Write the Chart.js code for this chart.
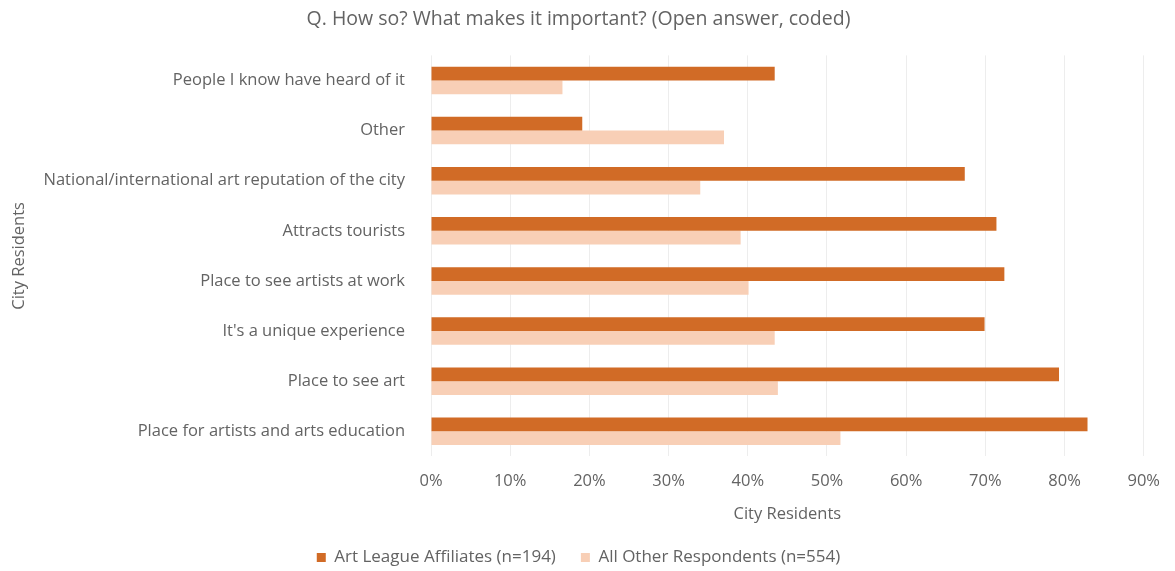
<!DOCTYPE html>
<html>
<head>
<meta charset="utf-8">
<script src="https://cdn.jsdelivr.net/npm/chart.js@4.4.0/dist/chart.umd.min.js"></script>
<style>
  html, body { margin: 0; padding: 0; background: #fff; }
  #wrap { width: 1175px; height: 571px; }
</style>
</head>
<body>
<div id="wrap"><canvas id="barChart"></canvas></div>
<script>
// categories (top to bottom)
const categories = [
    'People I know have heard of it',
    'Other',
    'National/international art reputation of the city',
    'Attracts tourists',
    'Place to see artists at work',
    "It's a unique experience",
    'Place to see art',
    'Place for artists and arts education'
];

// series values in percent
const affiliatesValues = [43.4, 19.1, 67.4, 71.4, 72.4, 69.9, 79.3, 82.9];
const othersValues = [16.6, 37.0, 34.0, 39.1, 40.1, 43.4, 43.8, 51.7];

const seriesNames = ['Art League Affiliates (n=194)', 'All Other Respondents (n=554)'];
const xTicks = [0, 10, 20, 30, 40, 50, 60, 70, 80, 90];

const textColor = '#636363';
Chart.defaults.font.family = '"Open Sans", Lato, sans-serif';
Chart.defaults.color = textColor;

const barChart = document.getElementById('barChart');

new Chart(barChart, {
    type: 'bar',
    data: {
        labels: categories,
        datasets: [{
            label: seriesNames[0],
            data: affiliatesValues,
            backgroundColor: 'rgb(209, 107, 38)',
            barPercentage: 1,
            categoryPercentage: 0.55
        }, {
            label: seriesNames[1],
            data: othersValues,
            backgroundColor: 'rgb(248, 207, 182)',
            barPercentage: 1,
            categoryPercentage: 0.55
        }]
    },
    options: {
        indexAxis: 'y',
        responsive: true,
        maintainAspectRatio: false,
        animation: false,
        layout: {
            padding: { left: 9, right: 27, top: 8, bottom: -5 }
        },
        plugins: {
            title: {
                display: true,
                text: 'Q. How so? What makes it important? (Open answer, coded)',
                font: { size: 19.5, weight: 'normal' },
                color: textColor,
                padding: { top: 0, bottom: 24 }
            },
            legend: {
                position: 'bottom',
                labels: {
                    boxWidth: 9,
                    boxHeight: 9,
                    font: { size: 17 },
                    padding: 25
                }
            },
            tooltip: { enabled: false }
        },
        scales: {
            x: {
                min: 0,
                max: 90,
                afterBuildTicks: function(scale) {
                    scale.ticks = xTicks.map(v => ({ value: v }));
                },
                ticks: {
                    font: { size: 16.5 },
                    padding: 15,
                    callback: function(value) { return value + '%'; }
                },
                grid: { color: '#ededed', drawTicks: false },
                border: { display: false },
                title: {
                    display: true,
                    text: 'City Residents',
                    font: { size: 16.5 },
                    padding: { top: -2, bottom: 0 }
                }
            },
            y: {
                ticks: {
                    font: { size: 16.5 },
                    padding: 18
                },
                grid: { display: false },
                border: { display: false },
                title: {
                    display: true,
                    text: 'City Residents',
                    font: { size: 16.5 },
                    padding: { top: 0, bottom: 0 }
                },
                afterFit: function(scale) {
                    scale.width = 422;
                }
            }
        }
    }
});
</script>
</body>
</html>
